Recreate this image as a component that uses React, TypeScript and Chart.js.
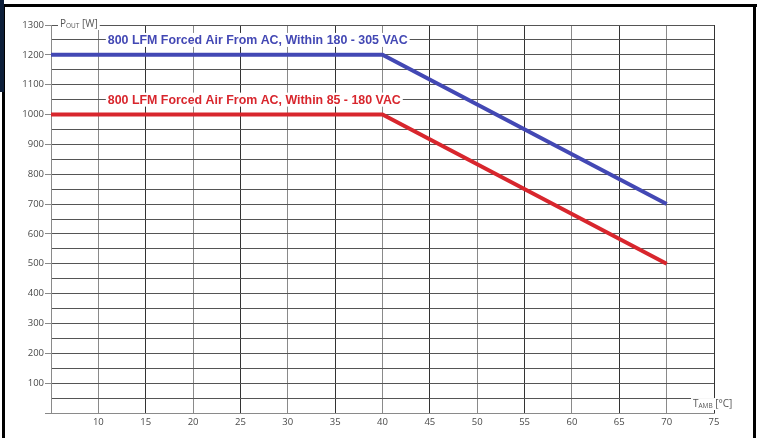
import React, { useEffect, useRef } from "react";
import { Chart, registerables } from "chart.js";

Chart.register(...registerables);

const tempC = [5, 40, 70];
const powerHighLine = [1200, 1200, 700];
const powerLowLine = [1000, 1000, 500];
const seriesLabels = [
  "800 LFM Forced Air From AC, Within 180 - 305 VAC",
  "800 LFM Forced Air From AC, Within 85 - 180 VAC",
];
const labelAnchorX = [11, 11];
const labelAnchorY = [1250, 1050];
const seriesColors = ["#4348b4", "#d8262d"];

const labelPlugin = {
  id: "labelPlugin",
  afterDraw(chart: any) {
    const { ctx, scales } = chart;
    const xs = scales.x;
    const ys = scales.y;
    ctx.save();
    ctx.font = "bold 12.4px 'Liberation Sans', Arial, sans-serif";
    ctx.textBaseline = "middle";
    ctx.textAlign = "left";
    seriesLabels.forEach((t, i) => {
      const px = xs.getPixelForValue(labelAnchorX[i]);
      const py = ys.getPixelForValue(labelAnchorY[i]);
      const w = ctx.measureText(t).width;
      ctx.fillStyle = "#fff";
      ctx.fillRect(px - 2, py - 7, w + 4, 14);
      ctx.fillStyle = seriesColors[i];
      ctx.fillText(t, px, py + 0.5);
    });
    const drawSub = (x: number, y: number, main: string, sub: string, rest: string) => {
      ctx.font = "10px 'Open Sans', sans-serif";
      const w1 = ctx.measureText(main).width;
      ctx.font = "6.5px 'Open Sans', sans-serif";
      const w2 = ctx.measureText(sub).width;
      ctx.font = "10px 'Open Sans', sans-serif";
      const w3 = ctx.measureText(rest).width;
      ctx.fillStyle = "#fff";
      ctx.fillRect(x - 2, y - 6, w1 + w2 + w3 + 4, 12);
      ctx.fillStyle = "#555";
      ctx.textBaseline = "alphabetic";
      ctx.font = "10px 'Open Sans', sans-serif";
      ctx.fillText(main, x, y + 3);
      ctx.font = "6.5px 'Open Sans', sans-serif";
      ctx.fillText(sub, x + w1, y + 4);
      ctx.font = "10px 'Open Sans', sans-serif";
      ctx.fillText(rest, x + w1 + w2, y + 3);
    };
    drawSub(xs.left + 9, ys.getPixelForValue(1300) - 1, "P", "OUT", " [W]");
    drawSub(xs.right - 21, ys.getPixelForValue(30), "T", "AMB", " [°C]");
    ctx.restore();
  },
};

export default function App() {
  const ref = useRef<HTMLCanvasElement | null>(null);
  useEffect(() => {
    document.body.style.margin = "0";
    const c = new Chart(ref.current as HTMLCanvasElement, {
      type: "line",
      data: {
        datasets: [
          {
            data: tempC.map((x, i) => ({ x, y: powerHighLine[i] })),
            borderColor: seriesColors[0],
            borderWidth: 4,
            pointRadius: 0,
            tension: 0,
          },
          {
            data: tempC.map((x, i) => ({ x, y: powerLowLine[i] })),
            borderColor: seriesColors[1],
            borderWidth: 4,
            pointRadius: 0,
            tension: 0,
          },
        ],
      },
      options: {
        animation: false,
        responsive: false,
        layout: { padding: { top: 25, right: 46, bottom: 0, left: 0 } },
        plugins: { legend: { display: false }, tooltip: { enabled: false } },
        scales: {
          x: {
            type: "linear",
            min: 5,
            max: 75,
            afterFit: (s: any) => {
              s.height = 25;
            },
            ticks: {
              stepSize: 5,
              padding: 4,
              color: "#4a4a4a",
              font: { family: "'Open Sans', sans-serif", size: 9.5 },
              callback: (v: any) => (v === 5 ? "" : String(v)),
              maxRotation: 0,
              autoSkip: false,
            },
            grid: {
              drawTicks: false,
              color: (ctx: any) => {
                const v = ctx.tick ? ctx.tick.value : 0;
                return v % 10 === 5 ? "#333" : "#8a8a8a";
              },
              lineWidth: 1,
            },
            border: { color: "#8a8a8a" },
          },
          y: {
            min: 0,
            max: 1300,
            afterFit: (s: any) => {
              s.width = 51;
            },
            ticks: {
              stepSize: 50,
              padding: 1,
              color: "#4a4a4a",
              font: { family: "'Open Sans', sans-serif", size: 9.5 },
              callback: (v: any) => (v !== 0 && v % 100 === 0 ? String(v) : ""),
              autoSkip: false,
            },
            grid: {
              tickLength: 6,
              color: "#555",
              tickColor: (ctx: any) => {
                const v = ctx.tick ? ctx.tick.value : 0;
                return v % 100 === 0 ? "#888" : "rgba(0,0,0,0)";
              },
              lineWidth: 1,
            },
            border: { color: "#8a8a8a" },
          },
        },
      },
      plugins: [labelPlugin],
    } as any);
    return () => c.destroy();
  }, []);
  return (
    <div style={{ position: "fixed", left: 0, top: 0, width: 760, height: 438, background: "#fff", overflow: "hidden" }}>
      <canvas ref={ref} width={760} height={438} style={{ position: "absolute", left: 0, top: 0 }} />
      <div style={{ position: "absolute", left: 0, top: 4, width: 757, height: 3, background: "#000" }} />
      <div style={{ position: "absolute", left: 2, top: 4, width: 3, height: 434, background: "#000" }} />
      <div style={{ position: "absolute", left: 753, top: 4, width: 3, height: 434, background: "#000" }} />
      <div style={{ position: "absolute", left: 0, top: 0, width: 4, height: 92, background: "#0d1f3a" }} />
    </div>
  );
}
